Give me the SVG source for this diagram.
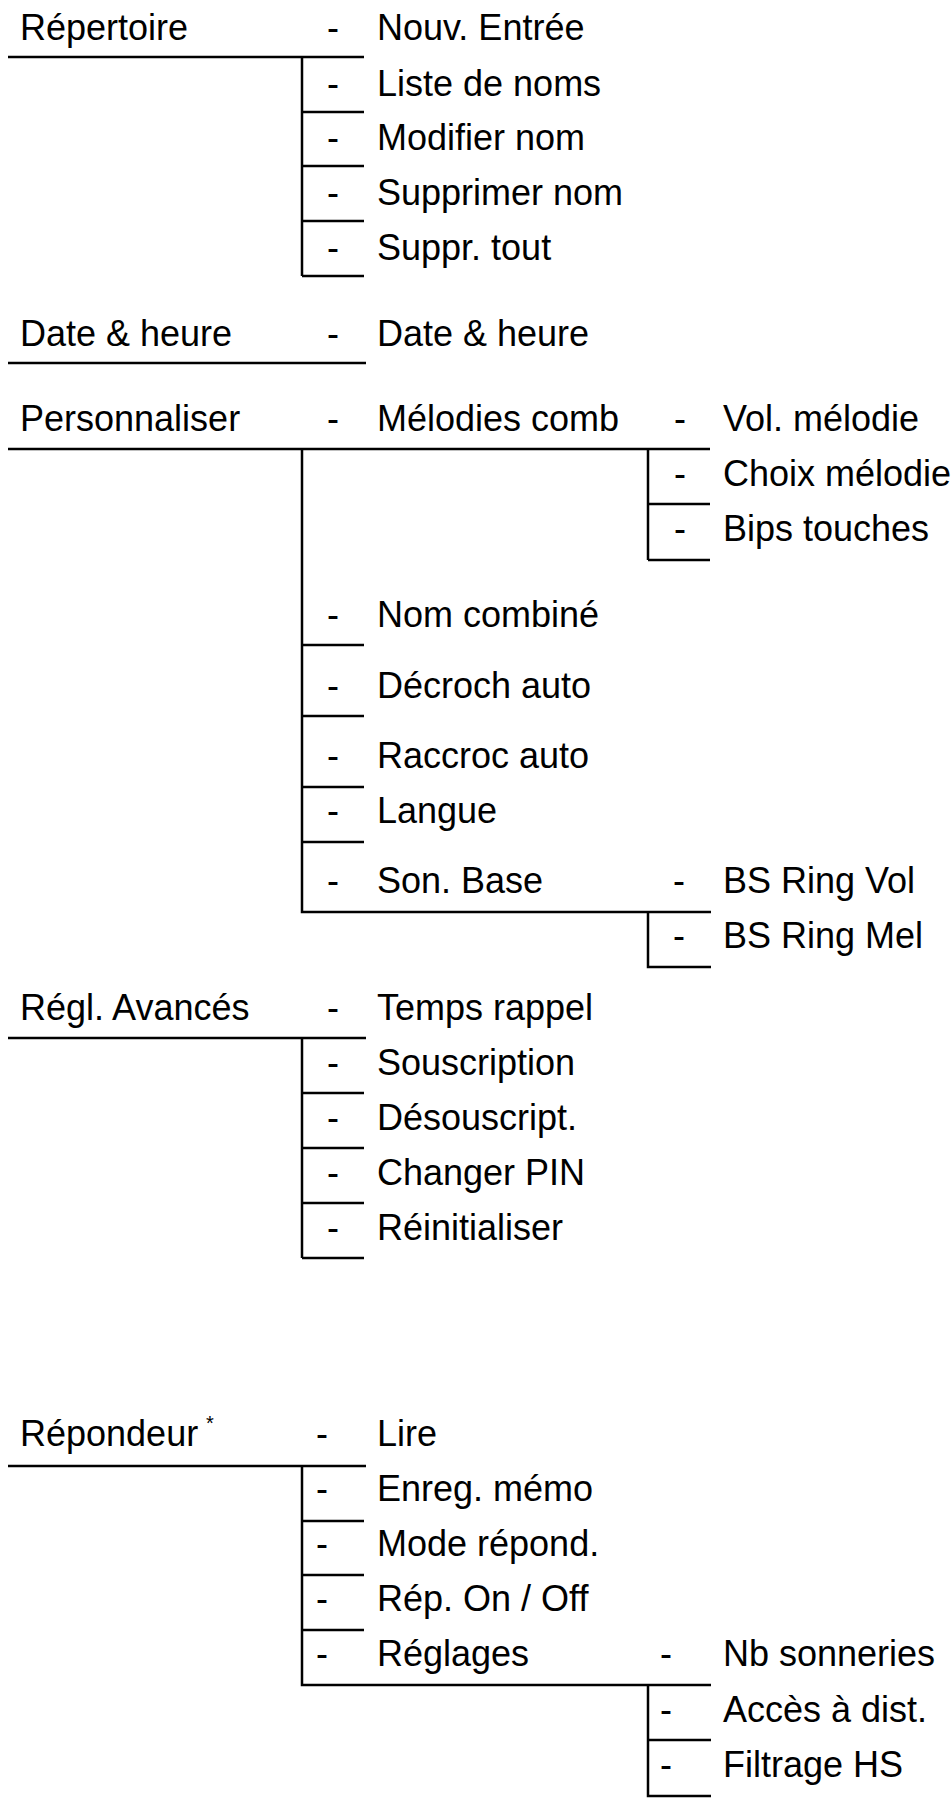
<svg xmlns="http://www.w3.org/2000/svg" width="951" height="1800" viewBox="0 0 951 1800">
<style>
text{font-family:"Liberation Sans",Arial,sans-serif;font-size:36px;fill:#000}
.d{text-anchor:middle}
line,path{stroke:#000;stroke-width:2.5;fill:none}
</style>
<rect width="951" height="1800" fill="#fff"/>
<g id="connectors">
<line x1="8" y1="57" x2="364" y2="57"/>
<path d="M302 57V276M302 112H364M302 166H364M302 221H364M302 276H364"/>
<line x1="8" y1="363" x2="366" y2="363"/>
<line x1="8" y1="449" x2="710" y2="449"/>
<path d="M648 449V560M648 504H710M648 560H710"/>
<path d="M302 449V912H711M302 645H364M302 716H364M302 787H364M302 842H364"/>
<path d="M648 912V967H711"/>
<line x1="8" y1="1038" x2="366" y2="1038"/>
<path d="M302 1038V1258M302 1093H364M302 1148H364M302 1203H364M302 1258H364"/>
<line x1="8" y1="1466" x2="366" y2="1466"/>
<path d="M302 1466V1685H711M302 1521H364M302 1575H364M302 1630H364"/>
<path d="M648 1685V1796H711M648 1740H711"/>
</g>
<g id="repertoire">
<text x="20" y="40">Répertoire</text>
<text class="d" x="333" y="40">-</text><text x="377" y="40">Nouv. Entrée</text>
<text class="d" x="333" y="96">-</text><text x="377" y="96">Liste de noms</text>
<text class="d" x="333" y="150">-</text><text x="377" y="150">Modifier nom</text>
<text class="d" x="333" y="205">-</text><text x="377" y="205">Supprimer nom</text>
<text class="d" x="333" y="260">-</text><text x="377" y="260">Suppr. tout</text>
</g>
<g id="date">
<text x="20" y="346">Date &amp; heure</text>
<text class="d" x="333" y="346">-</text><text x="377" y="346">Date &amp; heure</text>
</g>
<g id="personnaliser">
<text x="20" y="431">Personnaliser</text>
<text class="d" x="333" y="431">-</text><text x="377" y="431">Mélodies comb</text>
<text class="d" x="680" y="431">-</text><text x="723" y="431">Vol. mélodie</text>
<text class="d" x="680" y="486">-</text><text x="723" y="486">Choix mélodie</text>
<text class="d" x="680" y="541">-</text><text x="723" y="541">Bips touches</text>
<text class="d" x="333" y="627">-</text><text x="377" y="627">Nom combiné</text>
<text class="d" x="333" y="698">-</text><text x="377" y="698">Décroch auto</text>
<text class="d" x="333" y="768">-</text><text x="377" y="768">Raccroc auto</text>
<text class="d" x="333" y="823">-</text><text x="377" y="823">Langue</text>
<text class="d" x="333" y="893">-</text><text x="377" y="893">Son. Base</text>
<text class="d" x="679" y="893">-</text><text x="723" y="893">BS Ring Vol</text>
<text class="d" x="679" y="948">-</text><text x="723" y="948">BS Ring Mel</text>
</g>
<g id="reglages-avances">
<text x="20" y="1020">Régl. Avancés</text>
<text class="d" x="333" y="1020">-</text><text x="377" y="1020">Temps rappel</text>
<text class="d" x="333" y="1075">-</text><text x="377" y="1075">Souscription</text>
<text class="d" x="333" y="1130">-</text><text x="377" y="1130">Désouscript.</text>
<text class="d" x="333" y="1185">-</text><text x="377" y="1185">Changer PIN</text>
<text class="d" x="333" y="1240">-</text><text x="377" y="1240">Réinitialiser</text>
</g>
<g id="repondeur">
<text x="20" y="1446">Répondeur</text><text x="206" y="1430" style="font-size:20px">*</text>
<text class="d" x="322" y="1446">-</text><text x="377" y="1446">Lire</text>
<text class="d" x="322" y="1501">-</text><text x="377" y="1501">Enreg. mémo</text>
<text class="d" x="322" y="1556">-</text><text x="377" y="1556">Mode répond.</text>
<text class="d" x="322" y="1611">-</text><text x="377" y="1611">Rép. On / Off</text>
<text class="d" x="322" y="1666">-</text><text x="377" y="1666">Réglages</text>
<text class="d" x="666" y="1666">-</text><text x="723" y="1666">Nb sonneries</text>
<text class="d" x="666" y="1722">-</text><text x="723" y="1722">Accès à dist.</text>
<text class="d" x="666" y="1777">-</text><text x="723" y="1777">Filtrage HS</text>
</g>
</svg>
